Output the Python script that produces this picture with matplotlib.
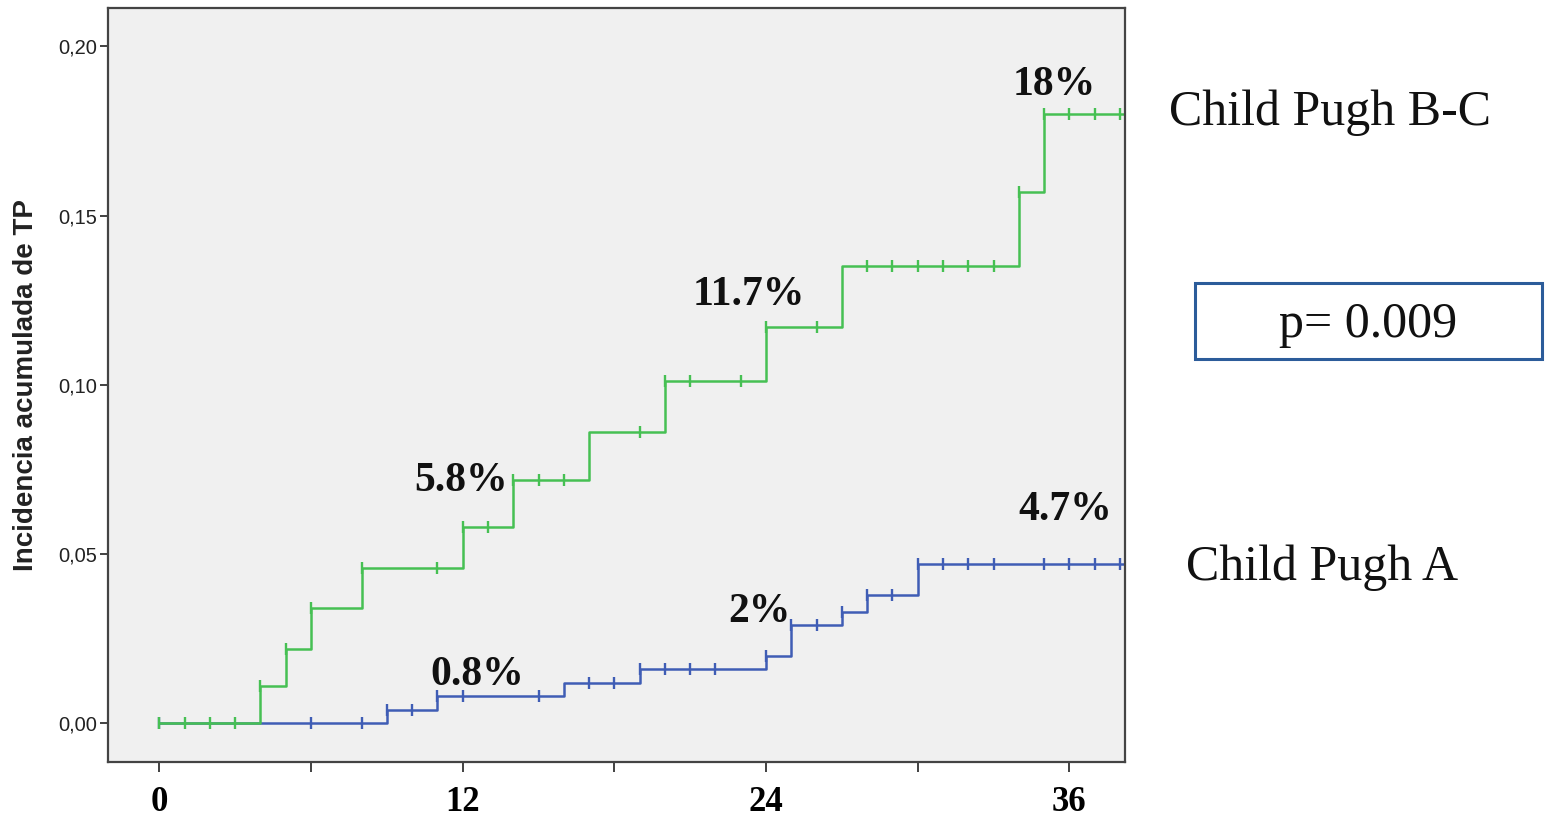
import numpy as np
import matplotlib as mpl
mpl.use('Agg')
import matplotlib.pyplot as plt
from matplotlib.patches import Rectangle

# Cumulative incidence (months, proportion) by Child Pugh class
t_bc = [4, 5, 6, 8, 12, 14, 17, 20, 24, 27, 34, 35]
v_bc = [0.011, 0.022, 0.034, 0.046, 0.058, 0.072, 0.086, 0.101, 0.117, 0.135, 0.157, 0.180]
cens_bc = [0, 1, 2, 3, 4, 5, 6, 8, 11, 12, 13, 14, 15, 16, 19, 20, 21, 23, 24, 26,
           28, 29, 30, 31, 32, 33, 34, 35, 36, 37, 38]

t_a = [9, 11, 16, 19, 24, 25, 27, 28, 30]
v_a = [0.004, 0.008, 0.012, 0.016, 0.020, 0.029, 0.033, 0.038, 0.047]
cens_a = [0, 6, 8, 9, 10, 11, 12, 15, 17, 18, 19, 20, 21, 22, 24, 25, 26, 27, 28,
          29, 30, 31, 32, 33, 35, 36, 37, 38]

# labelled points: (time, value, text)
lab_bc = [(12, 0.058, '5.8%'), (24, 0.117, '11.7%'), (36, 0.180, '18%')]
lab_a = [(12, 0.008, '0.8%'), (24, 0.020, '2%'), (36, 0.047, '4.7%')]

yticks = [0.0, 0.05, 0.10, 0.15, 0.20]
xticks = [0, 12, 24, 36]
xminor = [6, 18, 30]

GREEN = '#46c053'
BLUE = '#3f5db5'
XMAX = 38.2


def curve(t, v):
    x = np.r_[0, t, XMAX]
    y = np.r_[0, v, v[-1]]
    return x, y


def level(t, v, at):
    idx = np.searchsorted(t, at, side='right')
    return np.r_[0, v][idx]


fig = plt.figure(figsize=(15.5, 8.17), dpi=100)
ax = fig.add_axes([108/1550, 55/817, (1125-108)/1550, (809-55)/817])
ax.set_facecolor('#f0f0f0')

for t, v, cens, col in [(t_a, v_a, cens_a, BLUE), (t_bc, v_bc, cens_bc, GREEN)]:
    x, y = curve(t, v)
    ax.step(x, y, where='post', color=col, lw=1.8)
    ax.plot(cens, level(t, v, np.array(cens)), ls='none', marker='|',
            ms=9, mew=1.7, color=col)

ax.set_xlim(-2.03, XMAX)
ax.set_ylim(-0.0114, 0.2113)

ax.set_yticks(yticks)
ax.set_yticklabels([f'{v:.2f}'.replace('.', ',') for v in yticks],
                   fontsize=14.5, family='Liberation Sans', color='#222222')
ax.set_xticks(xticks)
ax.set_xticks(xminor, minor=True)
ax.set_xticklabels([str(v) for v in xticks], fontsize=25, fontweight='bold',
                   family='Liberation Serif')
ax.tick_params(axis='y', length=6, width=1.3, pad=2, color='#333333')
ax.tick_params(axis='x', which='both', length=7, width=1.3, pad=10, color='#333333')

for s in ax.spines.values():
    s.set_color('#444444')
    s.set_linewidth(1.6)

fig.text(26/1550, (817-385)/817, 'Incidencia acumulada de TP', rotation=90,
         ha='center', va='center', fontsize=20, fontweight='bold',
         family='Liberation Sans', color='#222222')

# percentage labels above the curves
offs_bc = {'5.8%': (-0.05, 0.0106), '11.7%': (-0.68, 0.0066), '18%': (-0.6, 0.0055)}
offs_a = {'0.8%': (0.58, 0.0033), '2%': (-0.25, 0.0099), '4.7%': (-0.16, 0.013)}
for labs, offs in [(lab_bc, offs_bc), (lab_a, offs_a)]:
    for tx, vy, txt in labs:
        dx, dy = offs[txt]
        ax.text(tx + dx, vy + dy, txt, ha='center', va='baseline', fontsize=30,
                fontweight='bold', family='Liberation Serif', color='#111111')

fig.text(1169/1550, (817-125)/817, 'Child Pugh B-C', ha='left', va='baseline',
         fontsize=36, family='Liberation Serif', color='#111111')
fig.text(1186/1550, (817-580)/817, 'Child Pugh A', ha='left', va='baseline',
         fontsize=36, family='Liberation Serif', color='#111111')

fig.patches.append(Rectangle((1195/1550, (817-359)/817), (1542-1195)/1550, 76/817,
                             transform=fig.transFigure, fill=False,
                             edgecolor='#2c5c9a', lw=2.2))
fig.text(1368/1550, (817-337)/817, 'p= 0.009', ha='center', va='baseline',
         fontsize=36, family='Liberation Serif', color='#111111')

fig.savefig('out.png', dpi=100, facecolor='white')
